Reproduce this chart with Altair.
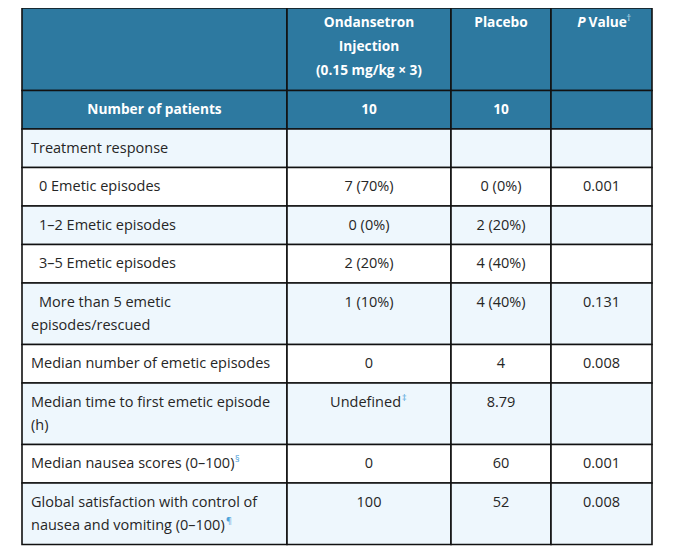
import altair as alt
import pandas as pd

# ---------------- data ----------------
header_ond = ["Ondansetron", "Injection", "(0.15 mg/kg × 3)"]
header_plc = ["Placebo"]
header_p_italic = "P"
header_p_rest = "Value"
header_p_mark = "†"

row_labels = [
    "Number of patients",
    "Treatment response",
    "»0 Emetic episodes",
    "»1–2 Emetic episodes",
    "»3–5 Emetic episodes",
    "»More than 5 emetic\nepisodes/rescued",
    "Median number of emetic episodes",
    "Median time to first emetic episode\n(h)",
    "Median nausea scores (0–100)",
    "Global satisfaction with control of\nnausea and vomiting (0–100)",
]
ondansetron = ["10", "", "7 (70%)", "0 (0%)", "2 (20%)", "1 (10%)", "0", "Undefined", "0", "100"]
placebo = ["10", "", "0 (0%)", "2 (20%)", "4 (40%)", "4 (40%)", "4", "8.79", "60", "52"]
p_values = ["", "", "0.001", "", "", "0.131", "0.008", "", "0.001", "0.008"]
# footnote marks: (row, column, symbol)
footnotes = [(7, 1, "‡"), (8, 0, "§"), (9, 0, "¶")]

# ---------------- layout ----------------
HEADER = "#2d79a0"
LIGHT = "#eef7fd"
WHITE = "#ffffff"
TEXT = "#262626"
NOTE = "#4fa3da"
FONT = "Open Sans"
FS = 14.5
FS_B = 13.7

PAGE_W, PAGE_H, M = 682, 556, 8
W, H = PAGE_W - 2 * M, PAGE_H - 2 * M
col_edges = [22, 287, 451, 551, 652]
col_centers = [(col_edges[i] + col_edges[i + 1]) / 2 for i in range(4)]
header_top, header_bottom = 8, 90.5
virtual_header_top = 3.5
single_h, extra_line_h = 38.5, 23
first_line_off = 19.5
# approximate rendered width of the label line that carries a footnote mark
label_widths = {8: 203, 9: 194}

rects, texts = [], []

for c in range(4):
    rects.append(dict(x=col_edges[c], x2=col_edges[c + 1], y=header_top, y2=header_bottom, fill=HEADER))

# header texts
for k, t in enumerate(header_ond):
    texts.append(dict(x=col_centers[1], y=virtual_header_top + 19.5 + 24 * k, text=t, kind="hdr"))
for k, t in enumerate(header_plc):
    texts.append(dict(x=col_centers[2], y=virtual_header_top + 19.5 + 24 * k, text=t, kind="hdr"))
texts.append(dict(x=col_centers[3] - 16, y=virtual_header_top + 19.5, text=header_p_italic, kind="hdr_it"))
texts.append(dict(x=col_centers[3] - 13, y=virtual_header_top + 19.5, text=header_p_rest, kind="hdr_left"))
texts.append(dict(x=col_centers[3] + 25, y=virtual_header_top + 14.5, text=header_p_mark, kind="sup_hdr"))

top = header_bottom
row_lines = []
for i, lab in enumerate(row_labels):
    lines = lab.split("\n")
    h = single_h + extra_line_h * (len(lines) - 1)
    fill = HEADER if i == 0 else (LIGHT if i % 2 == 1 else WHITE)
    for c in range(4):
        rects.append(dict(x=col_edges[c], x2=col_edges[c + 1], y=top, y2=top + h, fill=fill))
    y0 = top + first_line_off
    row_lines.append((y0, lines))
    if i == 0:
        texts.append(dict(x=col_centers[0], y=y0, text=lines[0], kind="hdr"))
        texts.append(dict(x=col_centers[1], y=y0, text=ondansetron[i], kind="hdr"))
        texts.append(dict(x=col_centers[2], y=y0, text=placebo[i], kind="hdr"))
    else:
        for k, ln in enumerate(lines):
            indent = 8 if ln.startswith("»") else 0
            texts.append(dict(x=col_edges[0] + 9 + indent, y=y0 + extra_line_h * k,
                              text=ln.lstrip("»"), kind="left"))
        for c, vals in ((1, ondansetron), (2, placebo), (3, p_values)):
            if vals[i]:
                texts.append(dict(x=col_centers[c], y=y0, text=vals[i], kind="center"))
    top += h

# footnote superscripts
for r, c, sym in footnotes:
    y0, lines = row_lines[r]
    if c == 1:
        for t in texts:
            if t["kind"] == "center" and t["text"] == ondansetron[r] and t["y"] == y0:
                t["kind"] = "right"
                t["x"] = col_centers[1] + 32
        texts.append(dict(x=col_centers[1] + 33, y=y0 - 5, text=sym, kind="sup"))
    else:
        k = len(lines) - 1
        texts.append(dict(x=col_edges[0] + 9 + label_widths[r] + 1, y=y0 + extra_line_h * k - 5,
                          text=sym, kind="sup"))

rect_df = pd.DataFrame(rects)
text_df = pd.DataFrame(texts)

xs = alt.Scale(domain=[M, PAGE_W - M], nice=False, zero=False)
ys = alt.Scale(domain=[M, PAGE_H - M], nice=False, zero=False, reverse=True)

cells = alt.Chart(rect_df).mark_rect(stroke="#111111", strokeWidth=1.6).encode(
    x=alt.X("x:Q", scale=xs, axis=None),
    x2="x2:Q",
    y=alt.Y("y:Q", scale=ys, axis=None),
    y2="y2:Q",
    fill=alt.Fill("fill:N", scale=None),
)


def text_layer(kind, **props):
    base = dict(font=FONT, fontSize=FS, baseline="middle")
    base.update(props)
    return alt.Chart(text_df).transform_filter(alt.datum.kind == kind).mark_text(**base).encode(
        x=alt.X("x:Q", scale=xs, axis=None),
        y=alt.Y("y:Q", scale=ys, axis=None),
        text="text:N",
    )


layers = [
    cells,
    text_layer("hdr", align="center", fontSize=FS_B, fontWeight="bold", color="white"),
    text_layer("hdr_it", align="right", fontSize=FS_B, fontWeight="bold", fontStyle="italic", color="white"),
    text_layer("hdr_left", align="left", fontSize=FS_B, fontWeight="bold", color="white"),
    text_layer("sup_hdr", align="left", fontSize=9, color="#cfe6f3"),
    text_layer("left", align="left", color=TEXT),
    text_layer("center", align="center", color=TEXT),
    text_layer("right", align="right", color=TEXT),
    text_layer("sup", align="left", fontSize=9, color=NOTE),
]

chart = alt.layer(*layers).properties(
    width=W, height=H, padding=0, autosize=alt.AutoSizeParams(type="none")
).configure_view(stroke=None)

chart.save("out.html", embed_options={"renderer": "svg", "actions": False})
